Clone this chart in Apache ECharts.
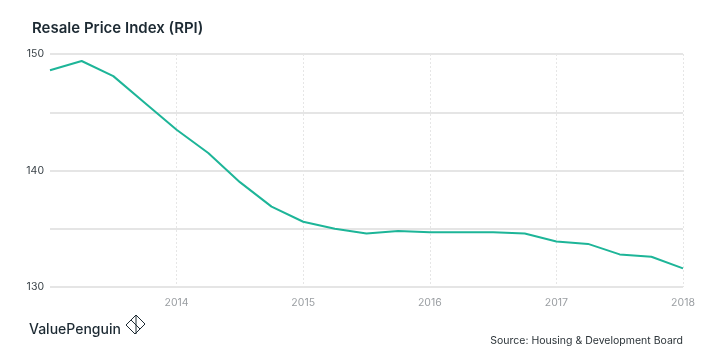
<!DOCTYPE html>
<html><head><meta charset="utf-8">
<script src="https://cdn.jsdelivr.net/npm/echarts@6/dist/echarts.min.js"></script>
<style>html,body{margin:0;padding:0;background:#fff}#c{width:720px;height:360px}</style>
</head><body><div id="c"></div>
<script>
const quarters = ["2013Q1","2013Q2","2013Q3","2013Q4","2014Q1","2014Q2","2014Q3","2014Q4","2015Q1","2015Q2","2015Q3","2015Q4","2016Q1","2016Q2","2016Q3","2016Q4","2017Q1","2017Q2","2017Q3","2017Q4","2018Q1"];
const rpi = [148.6,149.4,148.1,145.8,143.5,141.5,139.0,136.9,135.6,135.0,134.6,134.8,134.7,134.7,134.7,134.6,133.9,133.7,132.8,132.6,131.6];
const yLabels = [130,140,150];
const FONT = "Inter, 'Noto Sans', sans-serif";
const chart = echarts.init(document.getElementById('c'), null, {renderer:'canvas'});
chart.setOption({
  animation:false,
  backgroundColor:'#fff',
  title:{text:'Resale Price Index (RPI)', left:27, top:16,
    textStyle:{fontFamily:FONT, fontSize:15, fontWeight:600, color:'#1d2a33'}},
  grid:{left:50, right:37, top:54, bottom:73},
  xAxis:{type:'category', data:quarters, boundaryGap:false,
    axisLine:{show:false}, axisTick:{show:false},
    axisLabel:{interval:(i)=> i>0 && i%4===0, formatter:(v)=>v.slice(0,4),
      color:'#9a9ea2', fontFamily:FONT, fontSize:10.5, margin:10},
    splitLine:{show:true, interval:(i)=> i>0 && i%4===0, lineStyle:{color:'#e6e6e6', type:[2,2], width:1}}},
  yAxis:{type:'value', min:130, max:150, interval:5,
    axisLine:{show:false}, axisTick:{show:false},
    axisLabel:{formatter:(v)=> yLabels.includes(v)? String(v):'', color:'#3a4248', fontFamily:FONT, fontSize:10.5, margin:6},
    splitLine:{lineStyle:{color:'#dcdcdc', width:1.5}}},
  series:[{type:'line', data:rpi, symbol:'none', lineStyle:{color:'#1db598', width:2}}],
  graphic:[
    {type:'text', left:29, top:323, style:{text:'ValuePenguin', font:'500 14px '+FONT, fill:'#1d2a33'}},
    {type:'polyline', shape:{points:[[126,325],[136,315],[145,324],[135,334],[126,325]]}, style:{stroke:'#1d2a33', lineWidth:1, fill:'none'}},
    {type:'polyline', shape:{points:[[131,320],[140,329]]}, style:{stroke:'#1d2a33', lineWidth:1, fill:'none'}},
    {type:'polyline', shape:{points:[[136,315],[136,334]]}, style:{stroke:'#1d2a33', lineWidth:1, fill:'none'}},
    {type:'text', right:37, top:335, style:{text:'Source: Housing & Development Board', font:'10.5px '+FONT, fill:'#2c3439', textAlign:'right'}}
  ]
});
</script></body></html>
